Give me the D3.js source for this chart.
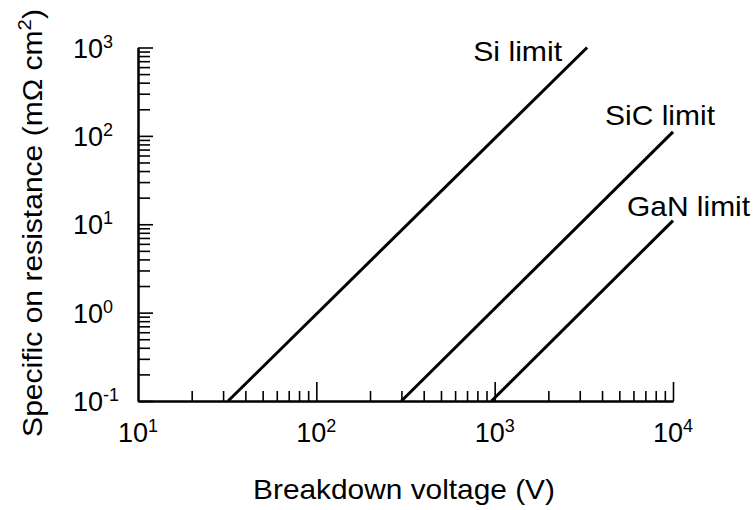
<!DOCTYPE html>
<html>
<head>
<meta charset="utf-8">
<script src="https://cdn.jsdelivr.net/npm/d3@7/dist/d3.min.js"></script>
<style>
    body { margin: 0; background: #fff; }
    text { font-family: "Liberation Sans", Arial, Helvetica, sans-serif; fill: #000; }
</style>
</head>
<body>
<div id="chart"></div>

<script>

    // limit lines: start / end points (V, mOhm cm2)
    var seriesNames = ["Si limit", "SiC limit", "GaN limit"];
    var voltStart = [32, 300, 960];
    var voltEnd = [3300, 10000, 10000];
    var ronStart = [0.1, 0.1, 0.1];
    var ronEnd = [1000, 111, 11];

    // decade exponents shown as tick labels
    var xTickExp = [1, 2, 3, 4];
    var yTickExp = [-1, 0, 1, 2, 3];

    var xTitle = "Breakdown voltage (V)";
    var yTitle = "Specific on resistance (mΩ cm";

    var width = 756;
    var height = 510;
    var plot = { left: 138, right: 673, top: 47.5, bottom: 401 };

    var xScale = d3.scaleLog()
        .domain([10, 10000])
        .range([plot.left, plot.right]);

    var yScale = d3.scaleLog()
        .domain([0.1, 1000])
        .range([plot.bottom, plot.top]);

    function minorTicks(lo, hi) {
        var t = [];
        for (var e = lo; e < hi; e++)
            for (var k = 2; k < 10; k++) t.push(k * Math.pow(10, e));
        return t;
    }

    var svg = d3.select('#chart').append('svg')
        .attr('width', width)
        .attr('height', height)
        .style('background', '#fff');

    // x axis: minor + major ticks pointing up
    var gx = svg.append('g').attr('transform', 'translate(0,' + plot.bottom + ')');
    gx.append('g').call(d3.axisBottom(xScale).tickValues(minorTicks(1, 4))
        .tickSize(-10).tickSizeOuter(0).tickFormat(''));
    gx.append('g').call(d3.axisBottom(xScale).tickValues(xTickExp.slice(1).map(function(e) { return Math.pow(10, e); }))
        .tickSize(-19).tickSizeOuter(0).tickFormat(''));

    // y axis: ticks pointing right
    var gy = svg.append('g').attr('transform', 'translate(' + plot.left + ',0)');
    gy.append('g').call(d3.axisLeft(yScale).tickValues(minorTicks(-1, 3))
        .tickSize(-12).tickSizeOuter(0).tickFormat(''));
    gy.append('g').call(d3.axisLeft(yScale).tickValues(yTickExp.map(function(e) { return Math.pow(10, e); }))
        .tickSize(-15).tickSizeOuter(0).tickFormat(''));

    svg.selectAll('.domain').attr('stroke', '#000').attr('stroke-width', 2);
    svg.selectAll('.tick line').attr('stroke', '#000').attr('stroke-width', 1.6);

    // tick labels 10^n
    var xl = svg.selectAll('text.xtick').data(xTickExp).enter().append('text')
        .attr('class', 'xtick')
        .attr('x', function(d) { return xScale(Math.pow(10, d)); })
        .attr('y', plot.bottom + 41)
        .attr('text-anchor', 'middle')
        .attr('font-size', 27)
        .text('10');
    xl.append('tspan').attr('dy', -10).attr('font-size', 18).text(function(d) { return d; });

    var yl = svg.selectAll('text.ytick').data(yTickExp).enter().append('text')
        .attr('class', 'ytick')
        .attr('x', 73)
        .attr('y', function(d) { return yScale(Math.pow(10, d)) + 10; })
        .attr('font-size', 27)
        .text('10');
    yl.append('tspan').attr('dy', -10).attr('font-size', 18).text(function(d) { return d; });

    // limit lines
    svg.selectAll('line.limit').data(seriesNames).enter().append('line')
        .attr('class', 'limit')
        .attr('x1', function(d, i) { return xScale(voltStart[i]); })
        .attr('y1', function(d, i) { return yScale(ronStart[i]); })
        .attr('x2', function(d, i) { return xScale(voltEnd[i]); })
        .attr('y2', function(d, i) { return yScale(ronEnd[i]); })
        .attr('stroke', '#000')
        .attr('stroke-width', 3);

    // text stretched to the reference width
    function label(str, x, y, anchor, rot, target, size) {
        var t = svg.append('text')
            .attr('text-anchor', anchor)
            .attr('font-size', size || 27)
            .text(str);
        return fit(t, x, y, rot, target);
    }
    function fit(t, x, y, rot, target) {
        var w = t.node().getComputedTextLength();
        t.attr('transform', 'translate(' + x + ',' + y + ') rotate(' + rot + ') scale(' + (target / w) + ',1)');
        return t;
    }

    // series labels, placed off the top end of each line
    var labelOffset = [[-25, 13, 89], [42, -7, 110], [77, -5, 123]];
    seriesNames.forEach(function(name, i) {
        label(name, xScale(voltEnd[i]) + labelOffset[i][0], yScale(ronEnd[i]) + labelOffset[i][1],
            'end', 0, labelOffset[i][2]);
    });

    label(xTitle, 404, 499, 'middle', 0, 302);

    var yt = svg.append('text')
        .attr('text-anchor', 'middle')
        .attr('font-size', 28)
        .text(yTitle);
    yt.append('tspan').attr('dy', -11).attr('font-size', 19).text('2');
    yt.append('tspan').attr('dy', 11).text(')');
    fit(yt, 42, 223, -90, 428);

</script>
</body>
</html>
